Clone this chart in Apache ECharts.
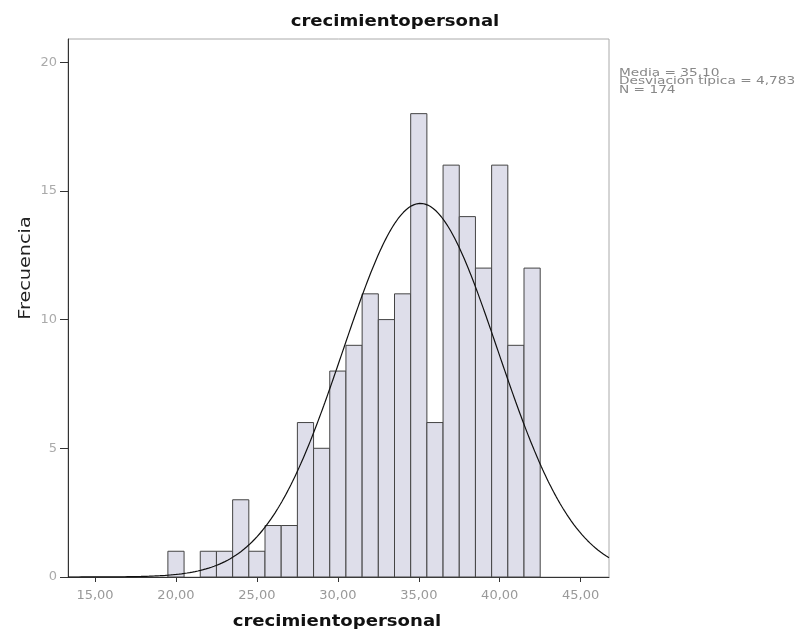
<!DOCTYPE html>
<html>
<head>
<meta charset="utf-8">
<script src="https://cdn.jsdelivr.net/npm/echarts@6/dist/echarts.min.js"></script>
<style>
html,body{margin:0;padding:0;background:#fff;}
#chart{width:800px;height:633px;}
</style>
</head>
<body>
<div id="chart"></div>
<script>
// Data
var binCenters = [20, 21, 22, 23, 24, 25, 26, 27, 28, 29, 30, 31, 32, 33, 34, 35, 36, 37, 38, 39, 40, 41, 42];
var binCounts  = [1, 0, 1, 1, 3, 1, 2, 2, 6, 5, 8, 9, 11, 10, 11, 18, 6, 16, 14, 12, 16, 9, 12];
var xTickValues = [15, 20, 25, 30, 35, 40, 45];
var yTickValues = [0, 5, 10, 15, 20];
var statMean = 35.10;
var statSd = 4.783;
var statN = 174;
var binWidth = 1;

var chartTitle = 'crecimientopersonal';
var xAxisName = 'crecimientopersonal';
var yAxisName = 'Frecuencia';
var statLines = ['Media = 35,10', 'Desviación típica = 4,783', 'N = 174'];

var xMin = 13.33, xMax = 46.75, yMax = 20.9;

// Fitted normal curve (from the stated mean, sd and N)
var curve = [];
for (var i = 0; i <= 400; i++) {
  var x = xMin + (xMax - xMin) * i / 400;
  var z = (x - statMean) / statSd;
  var y = statN * binWidth / (statSd * Math.sqrt(2 * Math.PI)) * Math.exp(-0.5 * z * z);
  curve.push([x, y]);
}

var barData = binCenters.map(function (c, i) { return [c, binCounts[i]]; });

var chart = echarts.init(document.getElementById('chart'), null, {renderer: 'canvas'});
var font = 'DejaVu Sans';
chart.setOption({
  animation: false,
  backgroundColor: '#ffffff',
  grid: {
    left: 68, right: 191, top: 39, bottom: 56,
    show: true, borderColor: '#aaa', borderWidth: 1, backgroundColor: '#fff'
  },
  xAxis: {
    type: 'value', min: xMin, max: xMax,
    axisLine: {show: true, lineStyle: {color: '#333', width: 1}},
    axisTick: {show: true, length: 5, customValues: xTickValues, lineStyle: {color: '#333'}},
    axisLabel: {
      customValues: xTickValues, margin: 12,
      fontFamily: font, fontSize: 13, color: '#999',
      formatter: function (v) { return v.toFixed(2).replace('.', ','); }
    },
    splitLine: {show: false}
  },
  yAxis: {
    type: 'value', min: 0, max: yMax,
    axisLine: {show: true, lineStyle: {color: '#333', width: 1}},
    axisTick: {show: true, length: 8, customValues: yTickValues, lineStyle: {color: '#333'}},
    axisLabel: {
      customValues: yTickValues, margin: 11,
      fontFamily: font, fontSize: 13, color: '#aaa'
    },
    splitLine: {show: false}
  },
  graphic: [{
    type: 'text', x: 395, y: 22, scaleX: 1.13,
    style: {text: chartTitle, x: 0, y: 0, textAlign: 'center', textVerticalAlign: 'middle', align: 'center', verticalAlign: 'middle',
            font: 'bold 16px "DejaVu Sans"', fill: '#111'}
  }, {
    type: 'text', x: 337, y: 622, scaleX: 1.13,
    style: {text: xAxisName, x: 0, y: 0, textAlign: 'center', textVerticalAlign: 'middle', align: 'center', verticalAlign: 'middle',
            font: 'bold 16px "DejaVu Sans"', fill: '#111'}
  }, {
    type: 'text', x: 26, y: 268, scaleX: 1.2, rotation: Math.PI / 2,
    style: {text: yAxisName, x: 0, y: 0, textAlign: 'center', textVerticalAlign: 'middle', align: 'center', verticalAlign: 'middle',
            font: '16px "DejaVu Sans"', fill: '#222'}
  }, {
    type: 'text', x: 619, y: 69, scaleX: 1.37,
    style: {
      text: statLines.join('\n'), x: 0, y: 0, textVerticalAlign: 'top', verticalAlign: 'top',
      font: '10px "DejaVu Sans"', fill: '#888', lineHeight: 8.5
    }
  }],
  series: [{
    type: 'custom',
    data: barData,
    renderItem: function (params, api) {
      var c = api.value(0), v = api.value(1);
      if (!v) return null;
      var p1 = api.coord([c - binWidth / 2, v]);
      var p2 = api.coord([c + binWidth / 2, 0]);
      return {
        type: 'rect',
        shape: {x: p1[0], y: p1[1], width: p2[0] - p1[0], height: p2[1] - p1[1]},
        style: {fill: '#dedeea', stroke: '#444', lineWidth: 1}
      };
    },
    encode: {x: 0, y: 1},
    z: 2
  }, {
    type: 'line',
    data: curve,
    showSymbol: false,
    smooth: false,
    lineStyle: {color: '#111', width: 1.2},
    z: 3
  }]
});
</script>
</body>
</html>
